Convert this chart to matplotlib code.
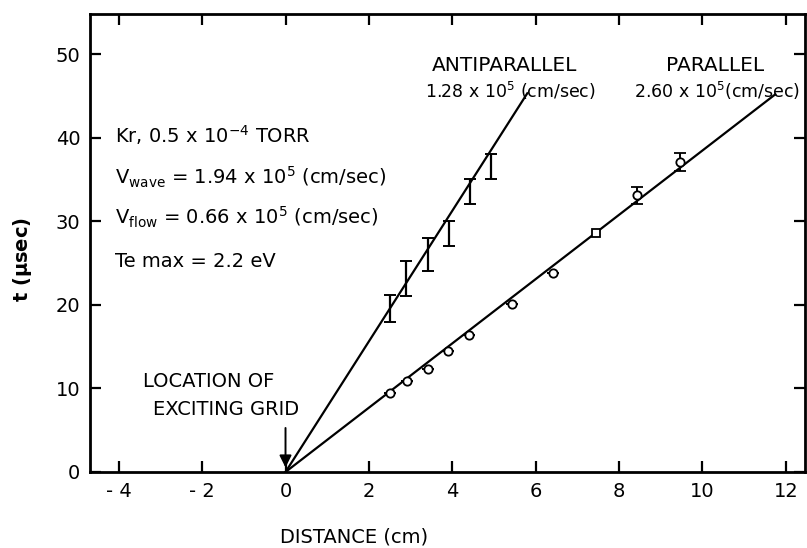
import numpy as np
import matplotlib
matplotlib.use("Agg")
import matplotlib.pyplot as plt

# antiparallel propagation: times with error bars
anti_x = [2.51, 2.90, 3.42, 3.92, 4.42, 4.92]
anti_t = [19.6, 23.1, 26.0, 28.5, 33.6, 36.5]
anti_err = [1.6, 2.1, 2.0, 1.5, 1.5, 1.5]

# parallel propagation: open circles
par_x = [2.51, 2.91, 3.41, 3.89, 4.41, 5.44, 6.42, 8.42, 9.46]
par_t = [9.5, 10.9, 12.3, 14.5, 16.4, 20.1, 23.8, 33.1, 37.1]
par_err = [0, 0, 0, 0, 0, 0, 0, 1.0, 1.1]

# single square point on the parallel line
sq_x = [7.45]
sq_t = [28.6]

# fitted phase velocities (cm/sec)
v_anti = 1.28e5
v_par = 2.60e5
anti_end = 5.8
par_end = 11.75

xticks = [-4, -2, 0, 2, 4, 6, 8, 10, 12]
xticklabels = ["- 4", "- 2", "0", "2", "4", "6", "8", "10", "12"]
yticks = [0, 10, 20, 30, 40, 50]

plt.rcParams["font.family"] = "DejaVu Sans"
plt.rcParams["mathtext.default"] = "regular"

fig = plt.figure(figsize=(8.07, 5.48), dpi=100)
ax = fig.add_axes([0.1115, 0.1387, 0.886, 0.8358])

# lines through the origin, slope = 1/v in microseconds per cm
xa = np.array([0, anti_end])
ax.plot(xa, xa / v_anti * 1e6, color="black", lw=1.6)
xp = np.array([0, par_end])
ax.plot(xp, xp / v_par * 1e6, color="black", lw=1.6)

ax.errorbar(anti_x, anti_t, yerr=anti_err, fmt="none", ecolor="black",
            elinewidth=1.6, capsize=4, capthick=1.4)
ax.errorbar(par_x, par_t, yerr=par_err, fmt="o", mfc="white", mec="black",
            mew=1.3, ms=6, ecolor="black", elinewidth=1.4, capsize=4, capthick=1.4)
ax.plot(sq_x, sq_t, "s", mfc="white", mec="black", mew=1.3, ms=6)

ax.set_xlim(-4.69, 12.46)
ax.set_ylim(0, 54.8)
ax.set_xticks(xticks)
ax.set_xticklabels(xticklabels)
ax.set_yticks(yticks)
ax.tick_params(direction="in", length=8, width=1.6, labelsize=14,
               top=True, right=True, pad=7)
for s in ax.spines.values():
    s.set_linewidth(2)

fig.text(354 / 807, 1 - 537 / 548, "DISTANCE (cm)", fontsize=14,
         ha="center", va="center")
fig.text(22 / 807, 1 - 259 / 548, "t ($\\mu$sec)", fontsize=14,
         ha="center", va="center", rotation=90, fontweight="bold")

ax.text(5.25, 48.6, "ANTIPARALLEL", fontsize=14.5, ha="center", va="center")
ax.text(5.4, 45.6, "1.28 x 10$^5$ (cm/sec)", fontsize=12.5, ha="center", va="center")
ax.text(10.3, 48.6, "PARALLEL", fontsize=14.5, ha="center", va="center")
ax.text(10.35, 45.6, "2.60 x 10$^5$(cm/sec)", fontsize=12.5, ha="center", va="center")

ax.text(-4.1, 40.3, "Kr, 0.5 x 10$^{-4}$ TORR", fontsize=14, va="center")
ax.text(-4.1, 35.3, "V$_{wave}$ = 1.94 x 10$^5$ (cm/sec)", fontsize=14, va="center")
ax.text(-4.1, 30.5, "V$_{flow}$ = 0.66 x 10$^5$ (cm/sec)", fontsize=14, va="center")
ax.text(-4.1, 25.2, "Te max = 2.2 eV", fontsize=14, va="center")

ax.text(-3.42, 10.8, "LOCATION OF", fontsize=14, ha="left", va="center")
ax.text(-3.18, 7.45, "EXCITING GRID", fontsize=14, ha="left", va="center")
ax.annotate("", xy=(0, 0.2), xytext=(0, 5.6),
            arrowprops=dict(arrowstyle="-|>", color="black", lw=1.4,
                            mutation_scale=18))

fig.savefig("out.png", dpi=100)
